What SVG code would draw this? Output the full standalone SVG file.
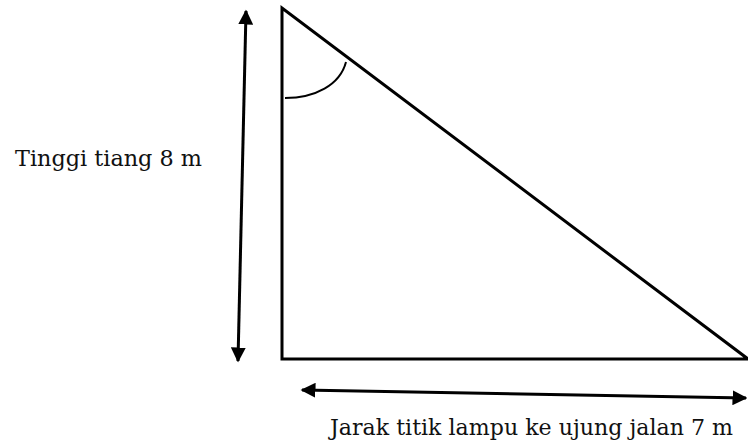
<svg xmlns="http://www.w3.org/2000/svg" width="748" height="443" viewBox="0 0 748 443">
<style>
.ln{stroke:#000;stroke-width:3;fill:none}
.ar{stroke:#000;stroke-width:3;fill:none}
text{font-family:'DejaVu Serif','Liberation Serif',serif;font-size:23px;fill:#111}
</style>
<defs>
<marker id="ah" viewBox="0 0 10 10" refX="9" refY="5" markerWidth="5" markerHeight="5" markerUnits="strokeWidth" orient="auto-start-reverse">
<path d="M0,0 L10,5 L0,10 z" fill="#000"/>
</marker>
</defs>
<rect width="748" height="443" fill="#fff"/>
<g id="triangle">
<path class="ln" d="M282,8 L282,359 L748,359 Z" stroke-linejoin="miter"/>
<path d="M346,62 C340,85 315,98 285,98" fill="none" stroke="#000" stroke-width="2"/>
</g>
<g id="connectors">
<line class="ar" x1="246" y1="11" x2="238" y2="361" marker-start="url(#ah)" marker-end="url(#ah)"/>
<line class="ar" x1="302" y1="390" x2="746" y2="398" marker-start="url(#ah)" marker-end="url(#ah)"/>
</g>
<g id="label-height">
<text x="15" y="166" textLength="187" lengthAdjust="spacingAndGlyphs">Tinggi tiang 8 m</text>
</g>
<g id="label-distance">
<text x="330" y="435" textLength="403" lengthAdjust="spacingAndGlyphs">Jarak titik lampu ke ujung jalan 7 m</text>
</g>
</svg>
